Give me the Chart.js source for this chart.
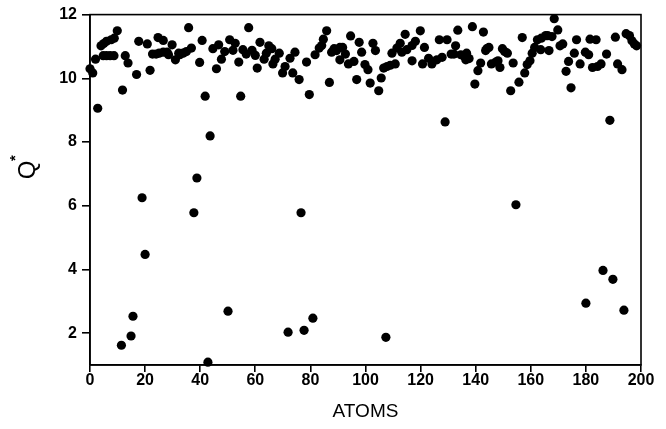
<!DOCTYPE html>
<html>
<head>
<meta charset="utf-8">
<script src="https://cdn.jsdelivr.net/npm/chart.js@4/dist/chart.umd.min.js"></script>
<style>
html,body{margin:0;padding:0;background:#fff;}
#wrap{width:666px;height:429px;position:relative;}
</style>
</head>
<body>
<div id="wrap"><canvas id="c" width="666" height="429"></canvas></div>
<script>
// Data
const atoms = [0,1,2,2.8,4,4.8,5,6,6,7.3,7.7,8.7,8.8,9.9,11.4,11.8,12.8,13.8,14.9,15.6,16.9,17.7,18.9,20,20.8,21.8,22.7,24,24.7,25.1,26.6,26.6,28,28.5,29.8,31,32.2,32.6,33.8,35,35.8,36.8,37.7,38.8,39.8,40.7,41.8,42.8,43.6,44.6,45.9,46.7,47.7,48.9,50.1,50.7,51.9,52.7,54,54.7,55.5,56.7,57.6,58.8,60,60.7,61.7,63.2,64,64.9,66,66.4,67.2,68.7,69.9,70.8,71.9,72.6,73.6,74.4,75.9,76.6,77.7,78.6,79.6,80.9,81.7,83.2,84.1,84.7,85.9,86.9,87.7,88.6,89.5,90.7,90.7,91.7,92.7,93.8,94.6,95.8,96.8,97.7,98.6,99.8,100.9,101.7,102.7,103.6,104.8,105.7,106.6,107.4,107.8,109,109.6,110.8,111.4,112.6,113.2,114.4,115,116.9,116.9,118.1,119.9,120.7,121.4,122.9,124.1,125.9,126.8,127.8,128.9,129.6,131.1,132.1,132.7,133.5,134.6,135.8,136.4,136.7,137.6,138.8,139.7,140.8,141.8,142.8,143.6,144,144.8,145.7,147.3,148.1,148.8,149.7,150.5,151.5,152.7,153.6,154.6,155.7,156.9,157.8,158.7,159.7,160.5,161.4,162.4,163.6,163.8,165.4,166.1,166.6,167.7,168.5,169.8,170.6,171.6,172.8,173.7,174.6,175.8,176.6,177.9,179.8,180,181,181.5,182.4,183.7,184.2,185.5,186.2,187.5,188.7,189.8,190.7,191.5,193.1,193.8,194.6,195.8,196.7,197.6,198.4];
const qStar = [10.30,10.17,10.60,9.06,11.02,10.71,11.09,10.71,11.16,10.71,11.21,10.71,11.26,11.49,1.62,9.63,10.71,10.48,1.91,2.53,10.12,11.16,6.25,4.47,11.08,10.25,10.76,10.76,11.28,10.79,10.82,11.19,10.82,10.74,11.05,10.58,10.79,10.74,10.79,10.84,11.59,10.95,5.78,6.87,10.50,11.19,9.44,1.09,8.19,10.93,10.30,11.05,10.60,10.84,2.69,11.21,10.88,11.10,10.51,9.44,10.90,10.76,11.59,10.88,10.72,10.32,11.13,10.60,10.79,11.02,10.93,10.45,10.60,10.79,10.17,10.37,2.03,10.63,10.17,10.82,9.96,5.78,2.09,10.51,9.49,2.47,10.74,10.95,11.03,11.23,11.49,9.87,10.82,10.93,10.87,10.97,10.58,10.97,10.76,10.45,11.33,10.53,9.96,11.13,10.82,10.43,10.27,9.85,11.10,10.87,9.61,10.01,10.32,1.87,10.37,10.41,10.79,10.45,10.95,11.10,10.82,11.38,10.90,11.03,10.55,11.16,11.49,10.45,10.97,10.63,10.45,10.58,11.21,10.66,8.63,11.21,10.76,10.76,11.02,11.51,10.74,10.69,10.58,10.79,10.62,11.62,9.82,10.24,10.48,11.45,10.87,10.93,10.97,10.45,10.51,10.55,10.34,10.93,10.84,10.79,9.61,10.48,6.03,9.88,11.28,10.17,10.43,10.55,10.79,10.97,11.21,10.90,11.26,11.34,11.34,10.87,11.31,11.87,11.52,11.02,11.08,10.22,10.53,9.70,10.79,11.21,10.45,10.82,2.94,10.74,11.23,10.34,11.21,10.37,10.45,3.97,10.76,8.68,3.69,11.29,10.45,10.27,2.72,11.40,11.34,11.18,11.08,11.02];
const xTicks = [0,20,40,60,80,100,120,140,160,180,200];
const yTicks = [2,4,6,8,10,12];
const xTitle = "ATOMS";
const yTitle = "Q";
const yTitleSup = "*";

const points = atoms.map((a,i)=>({x:a,y:qStar[i]}));

const framePlugin = {
  id:'frame',
  beforeDatasetsDraw(chart){
    const {ctx, chartArea:a} = chart;
    ctx.save();
    ctx.strokeStyle='#000';
    ctx.lineWidth=1.6;
    ctx.strokeRect(a.left, a.top, a.right-a.left, a.bottom-a.top);
    ctx.restore();
  },
  afterDraw(chart){
    const {ctx} = chart;
    ctx.save();
    ctx.translate(28, 170);
    ctx.rotate(-Math.PI/2);
    ctx.fillStyle='#000';
    ctx.font='24px "Liberation Sans", Arial, sans-serif';
    ctx.textAlign='center';
    ctx.textBaseline='middle';
    ctx.fillText(yTitle, 0, 0);
    ctx.font='bold 15px "Liberation Sans", Arial, sans-serif';
    ctx.fillText(yTitleSup, 12, -12);
    ctx.restore();
  }
};

new Chart(document.getElementById('c'), {
  type:'scatter',
  data:{datasets:[{
    data:points,
    backgroundColor:'#000',
    borderColor:'#000',
    pointRadius:4.6,
    pointHoverRadius:4.6,
    borderWidth:0,
    clip:false
  }]},
  options:{
    responsive:false,
    animation:false,
    events:[],
    layout:{padding:{left:0,top:13,right:25,bottom:0}},
    plugins:{legend:{display:false},tooltip:{enabled:false}},
    scales:{
      x:{
        type:'linear', min:0, max:200,
        afterBuildTicks(s){ s.ticks = xTicks.map(v=>({value:v})); },
        afterFit(s){ s.height = 64; },
        grid:{display:true, drawOnChartArea:false, drawTicks:true, tickLength:7, color:'#000', lineWidth:1.6},
        border:{display:true, color:'#000', width:1.6},
        ticks:{color:'#000', padding:-1, maxRotation:0, autoSkip:false, font:{family:'"Liberation Sans", Arial, sans-serif', size:16, weight:'bold'}},
        title:{display:true, text:xTitle, color:'#000', padding:{top:4,bottom:6}, font:{family:'"Liberation Sans", Arial, sans-serif', size:19}}
      },
      y:{
        type:'linear', min:1, max:12,
        afterBuildTicks(s){ s.ticks = yTicks.map(v=>({value:v})); },
        afterFit(s){ s.width = 90; },
        grid:{display:true, drawOnChartArea:false, drawTicks:true, tickLength:8, color:'#000', lineWidth:1.6},
        border:{display:true, color:'#000', width:1.6},
        ticks:{color:'#000', padding:5, autoSkip:false, font:{family:'"Liberation Sans", Arial, sans-serif', size:16, weight:'bold'}}
      }
    }
  },
  plugins:[framePlugin]
});
</script>
</body>
</html>
